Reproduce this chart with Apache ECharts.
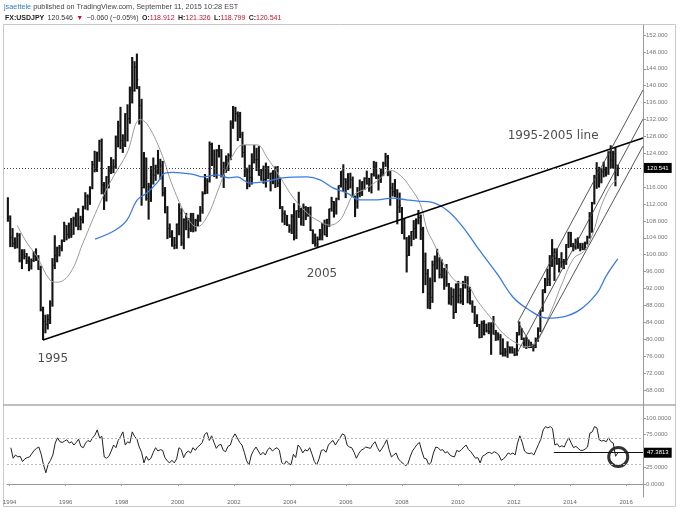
<!DOCTYPE html>
<html>
<head>
<meta charset="utf-8">
<title>USDJPY monthly</title>
<script src="https://cdn.jsdelivr.net/npm/echarts@6.0.0/dist/echarts.min.js"></script>
<style>
  html, body { margin: 0; padding: 0; background: #fff; }
  #chart { width: 680px; height: 511px; }
</style>
</head>
<body>
<div id="chart"></div>
<script>
// monthly bars, Jan 1994 .. Sep 2015 (one row per year)
const firstYear = 1994
const highs = [
  113.6, 109.3, 106.3, 104.1, 105.2, 105.1, 101.3, 101.3, 100.4, 99.6, 99.1, 100.8,
  101.5, 99.9, 97.4, 87.7, 85.8, 85.9, 89.2, 99.2, 104.6, 101.9, 102.3, 103.6,
  107.8, 107.0, 107.6, 108.7, 109.0, 110.0, 111.0, 109.2, 111.6, 114.8, 114.3, 116.2,
  122.2, 124.6, 124.4, 127.2, 127.5, 117.2, 118.6, 121.0, 123.1, 122.6, 128.2, 131.7,
  135.0, 128.5, 133.5, 135.6, 139.8, 146.8, 145.8, 147.6, 139.9, 136.9, 124.3, 123.0,
  117.0, 121.0, 123.0, 121.3, 124.8, 122.7, 122.2, 116.0, 111.5, 107.4, 105.8, 104.2,
  107.4, 112.2, 111.0, 108.6, 109.9, 108.7, 109.9, 109.9, 108.5, 109.5, 111.5, 115.0,
  119.1, 118.1, 126.8, 126.5, 124.9, 125.0, 126.0, 125.0, 122.0, 123.5, 124.0, 131.8,
  135.2, 135.0, 133.9, 133.8, 129.1, 126.0, 120.6, 121.3, 124.0, 126.0, 125.3, 125.7,
  120.3, 121.1, 121.8, 121.0, 119.4, 120.0, 120.9, 121.0, 118.3, 111.5, 110.5, 109.4,
  107.2, 109.6, 112.2, 110.5, 114.9, 111.1, 112.1, 111.5, 111.3, 111.4, 106.0, 105.0,
  104.3, 106.1, 107.5, 108.3, 108.5, 110.9, 113.7, 112.7, 113.5, 116.4, 119.8, 121.4,
  118.1, 119.3, 119.4, 118.5, 114.0, 116.0, 117.8, 117.4, 118.3, 119.9, 118.2, 119.3,
  122.2, 122.0, 119.0, 120.4, 122.0, 124.1, 123.6, 119.8, 117.0, 117.9, 115.5, 114.7,
  111.3, 108.6, 104.2, 104.6, 105.6, 108.2, 108.6, 110.6, 109.5, 106.6, 100.5, 96.6,
  94.6, 98.6, 99.8, 101.4, 99.4, 98.9, 96.9, 97.8, 93.3, 92.3, 92.0, 93.2,
  93.8, 92.1, 93.8, 95.0, 94.9, 92.4, 89.2, 87.9, 85.9, 83.6, 84.4, 84.5,
  83.7, 84.0, 84.0, 85.5, 82.2, 81.6, 81.2, 80.2, 77.9, 79.5, 78.3, 78.3,
  77.9, 81.7, 84.2, 82.6, 80.4, 80.6, 79.9, 79.4, 78.9, 80.4, 82.8, 86.8,
  91.8, 94.5, 96.7, 99.9, 103.7, 101.5, 101.5, 99.2, 100.6, 99.0, 102.5, 105.4,
  105.4, 102.8, 103.8, 104.1, 102.8, 102.8, 103.1, 104.5, 110.1, 112.5, 118.9, 121.9,
  120.8, 120.5, 122.0, 120.8, 124.5, 125.9, 124.6, 125.3, 121.3
]
const lows = [
  107.8, 101.8, 101.8, 101.4, 101.5, 98.2, 96.6, 98.9, 97.8, 96.1, 96.5, 98.3,
  98.5, 96.4, 86.6, 79.8, 81.4, 82.3, 83.6, 87.7, 96.6, 98.2, 99.6, 100.8,
  103.0, 103.4, 103.8, 104.0, 104.7, 106.6, 105.8, 105.8, 107.4, 110.7, 110.5, 111.8,
  115.5, 119.5, 119.6, 122.0, 114.3, 110.6, 112.6, 115.7, 119.1, 119.3, 120.3, 125.4,
  125.0, 124.1, 125.5, 126.8, 131.0, 135.8, 138.6, 139.2, 130.8, 111.6, 115.7, 112.8,
  108.3, 112.5, 116.6, 117.5, 119.0, 117.8, 113.8, 109.8, 103.7, 104.0, 101.9, 101.3,
  101.4, 104.6, 102.1, 101.3, 105.8, 103.9, 105.4, 105.3, 105.5, 106.7, 107.8, 109.7,
  114.3, 114.4, 117.1, 121.0, 118.4, 118.0, 123.0, 118.3, 115.8, 119.4, 119.8, 122.4,
  129.8, 131.5, 126.9, 127.6, 123.0, 118.4, 115.5, 116.0, 116.6, 121.6, 119.8, 118.7,
  117.5, 116.8, 115.9, 117.9, 115.0, 116.7, 115.8, 116.0, 110.8, 107.6, 107.0, 106.8,
  105.2, 104.9, 103.4, 103.7, 108.7, 106.9, 106.8, 108.2, 109.0, 105.6, 102.5, 101.9,
  101.7, 103.4, 103.4, 104.6, 104.2, 106.6, 110.2, 108.8, 109.5, 112.9, 115.9, 115.0,
  113.4, 115.3, 115.7, 113.7, 108.9, 110.9, 113.6, 113.9, 115.3, 116.6, 114.9, 114.5,
  118.5, 117.9, 115.2, 117.0, 118.6, 120.8, 118.6, 111.6, 113.8, 113.6, 107.2, 109.9,
  104.9, 103.6, 95.8, 99.7, 102.0, 103.5, 103.8, 107.2, 103.5, 90.9, 92.8, 87.2,
  87.1, 88.6, 93.5, 96.5, 94.4, 94.4, 91.7, 92.4, 88.2, 88.0, 84.8, 86.2,
  88.5, 88.4, 88.1, 92.0, 88.5, 88.2, 86.3, 83.6, 82.9, 80.2, 80.3, 80.9,
  81.6, 81.2, 76.3, 81.1, 79.6, 79.7, 76.3, 75.9, 75.9, 75.6, 76.6, 76.6,
  76.0, 76.1, 80.9, 79.8, 78.0, 77.7, 77.9, 77.9, 77.1, 77.9, 79.4, 81.7,
  86.5, 90.9, 92.6, 92.6, 97.1, 93.8, 97.6, 95.8, 96.9, 96.6, 97.6, 101.6,
  101.8, 100.8, 101.2, 101.4, 100.8, 101.1, 101.1, 102.4, 103.8, 105.2, 111.9, 115.6,
  115.9, 116.9, 118.3, 118.5, 118.9, 120.4, 120.4, 116.2, 118.6
]
const closes = [
  108.9, 104.1, 102.6, 102.8, 104.6, 98.6, 100.1, 99.6, 98.5, 97.2, 98.6, 99.7,
  99.6, 96.6, 87.0, 84.2, 83.5, 84.7, 88.4, 97.5, 99.8, 101.6, 101.6, 103.4,
  107.0, 104.8, 106.9, 104.7, 108.5, 109.8, 106.7, 108.3, 111.3, 113.8, 113.7, 115.8,
  121.3, 120.2, 123.9, 126.8, 116.5, 114.6, 118.4, 119.8, 120.8, 120.8, 127.8, 130.5,
  127.0, 126.0, 133.3, 132.2, 139.0, 138.8, 144.4, 141.4, 135.3, 115.9, 123.0, 113.3,
  116.1, 118.9, 118.8, 119.6, 121.7, 121.0, 114.6, 110.0, 106.2, 104.3, 102.1, 102.3,
  107.2, 109.8, 102.8, 108.3, 107.6, 106.1, 109.4, 106.7, 108.1, 108.9, 110.4, 114.4,
  116.4, 117.4, 126.1, 123.7, 118.9, 124.6, 124.9, 118.8, 119.4, 122.4, 123.5, 131.0,
  134.6, 133.4, 132.8, 128.5, 124.2, 119.6, 119.8, 118.3, 121.8, 122.5, 122.5, 118.8,
  119.9, 117.8, 118.1, 119.1, 119.3, 119.8, 120.6, 116.9, 111.4, 109.7, 109.5, 107.2,
  105.9, 109.1, 104.2, 110.4, 110.3, 108.7, 111.2, 109.2, 110.1, 105.8, 103.1, 102.6,
  103.6, 104.6, 107.1, 104.7, 108.3, 110.9, 112.6, 111.8, 113.3, 116.4, 119.8, 117.9,
  117.2, 115.8, 117.7, 113.9, 112.4, 114.4, 114.6, 117.3, 118.1, 116.8, 115.8, 119.0,
  120.7, 118.4, 117.8, 119.4, 121.7, 123.2, 119.0, 115.8, 114.9, 115.3, 111.3, 111.7,
  106.4, 103.8, 99.7, 103.9, 105.5, 106.2, 108.0, 108.8, 106.0, 98.4, 95.5, 90.7,
  89.9, 97.6, 98.3, 98.6, 95.3, 96.3, 94.7, 93.0, 89.8, 90.1, 86.3, 93.0,
  90.3, 89.0, 93.4, 94.0, 91.3, 88.4, 86.4, 84.2, 83.5, 80.4, 83.7, 81.1,
  82.0, 81.8, 83.1, 81.2, 81.5, 80.5, 76.7, 76.7, 77.0, 78.2, 77.6, 76.9,
  76.3, 80.9, 82.9, 80.0, 78.3, 79.8, 78.1, 78.4, 78.0, 79.8, 82.5, 86.7,
  91.7, 92.6, 94.2, 97.5, 100.5, 99.1, 97.9, 98.1, 98.3, 98.4, 102.4, 105.3,
  102.0, 101.8, 103.2, 102.3, 101.8, 101.3, 102.8, 104.1, 109.6, 112.3, 118.6, 119.8,
  117.5, 119.6, 120.1, 119.4, 124.1, 122.4, 123.9, 121.2, 120.541
]
// RSI, same months
const rsi = [
  55, 39, 44, 41, 42, 34, 38, 40, 41, 46, 51, 54,
  56, 45, 29, 17, 30, 36, 44, 62, 70, 64, 63, 65,
  67, 62, 64, 59, 63, 68, 57, 55, 62, 66, 64, 70,
  74, 82, 70, 72, 41, 39, 42, 50, 59, 55, 66, 72,
  79, 59, 64, 62, 79, 72, 68, 56, 48, 32, 42, 36,
  39, 48, 55, 50, 52, 51, 40, 35, 32, 36, 32, 38,
  55, 52, 40, 47, 50, 47, 55, 51, 56, 59, 63, 75,
  78, 66, 73, 63, 54, 59, 60, 51, 49, 57, 59, 70,
  76, 70, 63, 59, 48, 35, 29, 44, 51, 56, 50, 44,
  48, 44, 52, 55, 50, 53, 55, 51, 33, 29, 35, 31,
  29, 45, 40, 59, 55, 47, 52, 50, 55, 45, 34, 29,
  38, 51, 52, 48, 59, 63, 66, 59, 65, 70, 76, 74,
  59, 56, 55, 48, 39, 46, 51, 53, 56, 55, 54, 60,
  64, 55, 49, 54, 60, 67, 52, 41, 44, 47, 38, 34,
  31, 28, 30, 41, 50, 55, 60, 63, 50, 39, 38, 29,
  33, 47, 56, 55, 51, 52, 47, 49, 44, 42, 41, 51,
  49, 52, 56, 59, 52, 49, 44, 39, 40, 32, 42, 44,
  47, 48, 46, 49, 47, 44, 36, 38, 42, 47, 45, 47,
  44, 62, 73, 63, 50, 47, 46, 47, 44, 52, 60, 68,
  82, 87, 85, 87, 84, 59, 61, 56, 58, 56, 64, 70,
  62, 55, 57, 54, 51, 51, 53, 56, 77, 79, 87, 85,
  67, 65, 66, 64, 70, 64, 62, 42, 47.3813
]

// moving averages: [year, value]
const grayMA = [
  [1994.37, 107], [1994.7, 103], [1995.08, 99.5], [1995.54, 94], [1995.8, 93.5],
  [1996.25, 95.6], [1996.71, 102.8], [1997.31, 112.2], [1997.78, 118.4], [1998.27, 124],
  [1998.74, 132], [1998.98, 131], [1999.45, 124.8], [1999.91, 116], [2000.4, 109],
  [2000.76, 106.6], [2001.12, 109], [2001.47, 114.6], [2001.75, 119.5], [2002.04, 123.6],
  [2002.39, 126], [2002.89, 126], [2003.25, 123], [2003.71, 118.4], [2004.17, 113.6],
  [2004.67, 109.9], [2005.02, 108.2], [2005.48, 107], [2005.84, 108.2], [2006.09, 111.3],
  [2006.3, 114], [2006.8, 115.8], [2007.26, 118], [2007.62, 120], [2007.98, 118.8],
  [2008.33, 116], [2008.69, 112], [2008.93, 106], [2009.15, 103], [2009.64, 96.4],
  [2010.0, 93.5], [2010.35, 93], [2010.7, 89.3], [2011.17, 85.3], [2011.63, 81.4],
  [2012.13, 79], [2012.48, 78.2], [2012.84, 79.5], [2013.3, 86], [2013.75, 93.5],
  [2014.15, 99.2], [2014.5, 100.8], [2014.82, 105], [2015.07, 110.6], [2015.32, 114.6],
  [2015.54, 117], [2015.68, 117.7]
]
const blueMA = [
  [1997.14, 103.7], [1997.85, 105.8], [1998.27, 108.2], [1998.63, 112.9], [1998.98, 114.6],
  [1999.34, 117], [1999.62, 119.3], [1999.91, 119.5], [2000.62, 119], [2000.97, 118.4],
  [2001.47, 118.9], [2001.9, 118.2], [2002.18, 118.4], [2002.64, 117], [2003.25, 117.4],
  [2003.81, 118.2], [2004.67, 118.4], [2005.13, 117.7], [2005.59, 115.8], [2006.09, 114.6],
  [2006.55, 113], [2007.15, 113], [2007.71, 113.4], [2008.2, 113], [2008.6, 112.7],
  [2009.03, 112.5], [2009.63, 110.6], [2010.2, 106.6], [2010.8, 101], [2011.45, 95.2],
  [2011.98, 90], [2012.5, 87.2], [2013.2, 85], [2013.77, 85.3], [2014.37, 87],
  [2014.97, 90.9], [2015.3, 95], [2015.71, 99]
]

// drawn lines: [year, price]
const trendLine = [[1995.29, 79.8], [2016.604, 127.6]]
const forkUpper = [[2012.16, 84.1], [2016.604, 139.0]]
const forkMedian = [[2012.13, 76.7], [2016.604, 132.1]]
const forkLower = [[2012.7, 77.9], [2016.604, 125.7]]
const forkBase = [[2012.16, 84.1], [2012.7, 77.9]]
const lastPrice = 120.541
const lastRsi = 47.3813
const rsiLineStart = 2013.42
const rsiCircle = [2015.72, 41]
const notes = [
  [1995.64, 75.3, '1995'],
  [2005.2, 95.4, '2005'],
  [2013.41, 128.1, '1995-2005 line']
]

const priceTicks = []
for (let v = 68; v <= 152; v += 4) priceTicks.push(v)
const yearTicks = []
for (let y = 1994; y <= 2016; y += 2) yearTicks.push(y)

const xMin = 1993.904
const xMax = 2016.604

const bars = closes.map((c, i) => [firstYear + (i + 0.5) / 12, highs[i], lows[i], c])
const rsiData = rsi.map((r, i) => [firstYear + (i + 0.5) / 12, r])

const chart = echarts.init(document.getElementById('chart'))

const font = 'Liberation Sans, Arial, sans-serif'

const option = {
  animation: false,
  textStyle: { fontFamily: font },
  grid: [
    { left: 4, right: 37, top: 25, height: 380 },
    { left: 4, right: 37, top: 405, height: 92 }
  ],
  xAxis: [
    {
      type: 'value', gridIndex: 0, min: xMin, max: xMax,
      axisLine: { show: false }, axisTick: { show: false },
      axisLabel: { show: false }, splitLine: { show: false }
    },
    {
      type: 'value', gridIndex: 1, min: xMin, max: xMax,
      axisLine: { show: true, lineStyle: { color: '#999' } },
      axisTick: { show: true, customValues: yearTicks, length: 2, lineStyle: { color: '#999' } },
      axisLabel: {
        customValues: yearTicks, formatter: v => String(Math.round(v)),
        fontSize: 6, color: '#666', margin: 2
      },
      splitLine: { show: false }
    }
  ],
  yAxis: [
    {
      type: 'value', gridIndex: 0, position: 'right', min: 64.43, max: 154.37,
      axisLine: { show: true, lineStyle: { color: '#999' } },
      axisTick: { show: true, customValues: priceTicks, length: 3, lineStyle: { color: '#999' } },
      axisLabel: {
        customValues: priceTicks, formatter: v => v.toFixed(3),
        fontSize: 6, color: '#777', margin: 3
      },
      splitLine: { show: false }
    },
    {
      type: 'value', gridIndex: 1, position: 'right', min: -19.7, max: 119.7,
      axisLine: { show: true, lineStyle: { color: '#999' } },
      axisTick: { show: true, customValues: [0, 25, 50, 75, 100], length: 3, lineStyle: { color: '#999' } },
      axisLabel: {
        customValues: [0, 25, 75, 100], formatter: v => v.toFixed(4),
        fontSize: 6, color: '#777', margin: 3
      },
      splitLine: { show: false }
    }
  ],
  graphic: [
    {
      type: 'rect', silent: true,
      shape: { x: 3.5, y: 24.5, width: 672, height: 482 },
      style: { fill: 'none', stroke: '#c8c8c8', lineWidth: 1 }
    },
    {
      type: 'line', silent: true,
      shape: { x1: 3, y1: 405, x2: 676, y2: 405 },
      style: { stroke: '#aaa', lineWidth: 1.5 }
    },
    {
      type: 'text', left: 4, top: 3,
      style: {
        text: '{u|jsaettele}{t| published on TradingView.com, September 11, 2015 10:28 EST}',
        rich: {
          u: { fill: '#2d7fc4', fontSize: 7.3, fontFamily: font },
          t: { fill: '#444', fontSize: 7.3, fontFamily: font }
        }
      }
    },
    {
      type: 'text', left: 5, top: 12,
      style: {
        text: '{b|FX:USDJPY} {t|120.546} {r|\u25BC} {t|\u22120.060 (\u22120.05%)} {b|O:}{r|118.912} {b|H:}{r|121.326} {b|L:}{r|118.799} {b|C:}{r|120.541}',
        rich: {
          b: { fill: '#222', fontSize: 7, fontWeight: 'bold', fontFamily: font },
          t: { fill: '#333', fontSize: 7, fontFamily: font },
          r: { fill: '#c8102e', fontSize: 7, fontFamily: font }
        }
      }
    }
  ],
  series: [
    {
      type: 'custom', name: 'USDJPY', xAxisIndex: 0, yAxisIndex: 0, clip: true,
      data: bars,
      renderItem: (params, api) => {
        const t = api.value(0)
        const hi = api.coord([t, api.value(1)])
        const lo = api.coord([t, api.value(2)])
        const cl = api.coord([t, api.value(3)])
        const w = api.size([1 / 12, 0])[0]
        return {
          type: 'group',
          children: [
            {
              type: 'rect',
              shape: { x: hi[0] - w * 0.45, y: hi[1], width: w * 0.9, height: Math.max(1, lo[1] - hi[1]) },
              style: { fill: '#151515' }
            },
            {
              type: 'line',
              shape: { x1: cl[0], y1: cl[1], x2: cl[0] + w * 0.6, y2: cl[1] },
              style: { stroke: '#151515', lineWidth: 1 }
            }
          ]
        }
      }
    },
    {
      type: 'line', name: 'MA gray', xAxisIndex: 0, yAxisIndex: 0, data: grayMA,
      smooth: 0.4, showSymbol: false, lineStyle: { color: '#9a9a9a', width: 1 },
      markLine: {
        silent: true, symbol: 'none',
        data: [{ yAxis: lastPrice }],
        lineStyle: { color: '#444', width: 1, type: [1, 2] },
        label: {
          position: 'end', distance: 1, formatter: lastPrice.toFixed(3),
          backgroundColor: '#000', color: '#fff', fontSize: 6, padding: [2, 3]
        }
      }
    },
    {
      type: 'line', name: 'MA blue', xAxisIndex: 0, yAxisIndex: 0, data: blueMA,
      smooth: 0.4, showSymbol: false, lineStyle: { color: '#3c7be0', width: 1.3 }
    },
    {
      type: 'line', xAxisIndex: 0, yAxisIndex: 0, data: trendLine,
      showSymbol: false, lineStyle: { color: '#000', width: 1.6 }
    },
    {
      type: 'line', xAxisIndex: 0, yAxisIndex: 0, data: forkUpper,
      showSymbol: false, lineStyle: { color: '#444', width: 0.9 }
    },
    {
      type: 'line', xAxisIndex: 0, yAxisIndex: 0, data: forkMedian,
      showSymbol: false, lineStyle: { color: '#444', width: 0.9 }
    },
    {
      type: 'line', xAxisIndex: 0, yAxisIndex: 0, data: forkLower,
      showSymbol: false, lineStyle: { color: '#444', width: 0.9 }
    },
    {
      type: 'line', xAxisIndex: 0, yAxisIndex: 0, data: forkBase,
      showSymbol: false, lineStyle: { color: '#444', width: 0.9 }
    },
    {
      type: 'scatter', xAxisIndex: 0, yAxisIndex: 0, symbolSize: 1,
      itemStyle: { color: 'rgba(0,0,0,0)' },
      data: notes,
      label: {
        show: true, position: 'inside', formatter: p => p.value[2],
        color: '#222', fontSize: 12, fontFamily: 'DejaVu Sans, Verdana, sans-serif'
      }
    },
    {
      type: 'line', name: 'RSI', xAxisIndex: 1, yAxisIndex: 1, data: rsiData,
      showSymbol: false, lineStyle: { color: '#222', width: 1 },
      markLine: {
        silent: true, symbol: 'none',
        data: [
          { yAxis: 70, lineStyle: { color: '#bbb', width: 1, type: [2, 2] }, label: { show: false } },
          { yAxis: 30, lineStyle: { color: '#bbb', width: 1, type: [2, 2] }, label: { show: false } },
          [
            { coord: [rsiLineStart, lastRsi], lineStyle: { color: '#111', width: 1, type: 'solid' } },
            {
              coord: [xMax, lastRsi],
              label: {
                show: true, position: 'end', distance: 1, formatter: lastRsi.toFixed(4),
                backgroundColor: '#000', color: '#fff', fontSize: 6, padding: [2, 3]
              }
            }
          ]
        ]
      }
    },
    {
      type: 'scatter', xAxisIndex: 1, yAxisIndex: 1, data: [rsiCircle],
      symbol: 'circle', symbolSize: 19,
      itemStyle: { color: 'rgba(0,0,0,0)', borderColor: '#000', borderWidth: 3 }
    }
  ]
}

chart.setOption(option)
</script>
</body>
</html>
